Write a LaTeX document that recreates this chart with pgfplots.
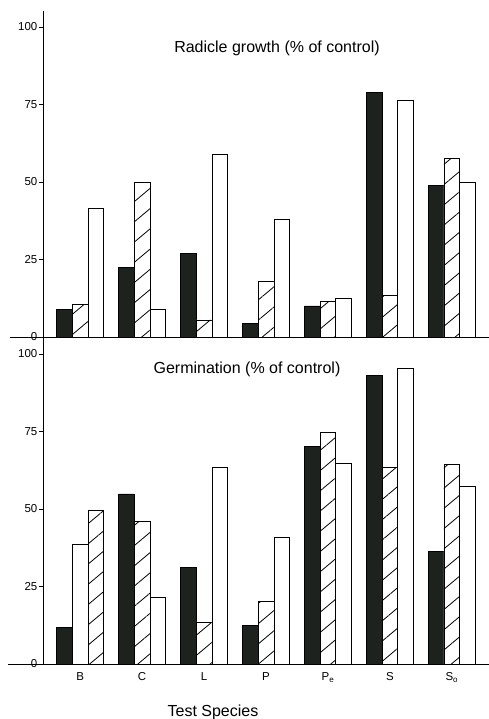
\documentclass[border=0pt]{standalone}
\usepackage{pgfplots}
\pgfplotsset{compat=1.18}
\usepackage{pgfplotstable}
\usepackage{fontspec}
\setmainfont{Liberation Sans}
\usetikzlibrary{patterns.meta}
\definecolor{barblack}{RGB}{30,34,30}

\pgfplotstableread{
x k h w
0 9 10.5 41.5
1 22.5 50 9
2 27 5.5 59
3 4.5 18 38
4 10 11.5 12.5
5 79 13.5 76.5
6 49 57.5 50
}\topdata

\pgfplotstableread{
x k h w
0 11.8 49.7 38.7
1 54.9 45.9 21.4
2 31.1 13.6 63.5
3 12.4 20.3 41.0
4 70.1 74.9 64.8
5 93.2 63.5 95.4
6 36.2 64.4 57.4
}\botdata

\pgfplotsset{
  panel/.style={
    scale only axis,
    width=446pt, height=325.5pt,
    xmin=-0.6, xmax=6.6, ymin=0, ymax=105,
    axis y line=left, axis x line=bottom,
    axis line style={-, line width=0.9pt, black},
    ytick={0,25,50,75,100},
    tick align=outside,
    major tick length=4pt,
    ytick style={line width=0.8pt, black},
    xtick style={draw=none},
    tick label style={font=\fontsize{11.5}{13}\selectfont},
    yticklabel style={inner sep=1.5pt},
    /pgf/number format/assume math mode=true,
    clip=false,
  },
  blk/.style={ybar, bar width=15.7pt, fill=barblack, draw=black, line width=0.6pt},
  hat/.style={ybar, bar width=15.7pt, fill=white, draw=black, line width=0.6pt,
     postaction={pattern={Lines[angle=40,distance=15.5pt,line width=0.8pt]}, pattern color=black}},
  wht/.style={ybar, bar width=15.7pt, fill=white, draw=black, line width=0.6pt},
}

\begin{document}
\begin{tikzpicture}[x=1pt,y=1pt]
\useasboundingbox (0,0) rectangle (489,719);

% Top panel: radicle growth
\begin{axis}[panel, at={(43pt,382pt)}, anchor=south west, xtick=\empty]
  \addplot[blk, bar shift=-15.7pt] table[x=x,y=k]{\topdata};
  \addplot[hat, bar shift=0pt] table[x=x,y=h]{\topdata};
  \addplot[wht, bar shift=15.7pt] table[x=x,y=w]{\topdata};
  \draw[line width=0.9pt] (rel axis cs:-0.074,0) -- (rel axis cs:1,0);
\end{axis}

% Bottom panel: germination
\begin{axis}[panel, at={(43pt,55pt)}, anchor=south west,
  xtick={0,1,2,3,4,5,6},
  xticklabels={B, C, L, P, P\textsubscript{e}, S, S\textsubscript{o}},
  xticklabel style={yshift=-1pt}]
  \addplot[blk, bar shift=-15.7pt] table[x=x,y=k]{\botdata};
  \addplot[hat, bar shift=0pt, restrict x to domain=1:6] table[x=x,y=h]{\botdata};
  \addplot[wht, bar shift=15.7pt, restrict x to domain=1:6] table[x=x,y=w]{\botdata};
  \addplot[wht, bar shift=0pt, restrict x to domain=0:0] table[x=x,y=w]{\botdata};
  \addplot[hat, bar shift=15.7pt, restrict x to domain=0:0] table[x=x,y=h]{\botdata};
  \draw[line width=0.9pt] (rel axis cs:-0.078,0) -- (rel axis cs:1,0);
\end{axis}

\node[font=\fontsize{16}{19}\selectfont] at (277,671) {Radicle growth (\% of control)};
\node[font=\fontsize{16}{19}\selectfont] at (247,350) {Germination (\% of control)};
\node[font=\fontsize{16}{19}\selectfont, anchor=base] at (213,2) {Test Species};
\end{tikzpicture}
\end{document}
